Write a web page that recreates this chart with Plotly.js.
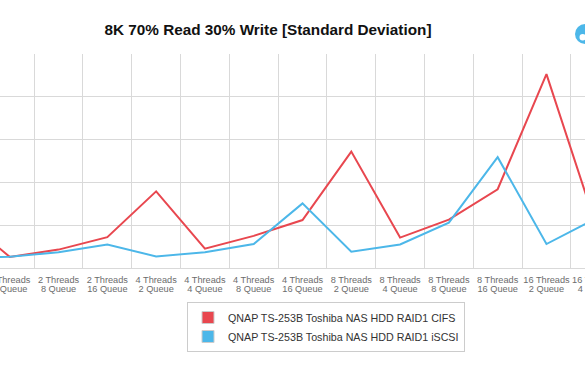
<!DOCTYPE html>
<html>
<head>
<meta charset="utf-8">
<script src="https://cdn.plot.ly/plotly-3.0.1.min.js"></script>
<style>
  html, body { margin: 0; padding: 0; background: #ffffff; overflow: hidden; width: 585px; height: 368px; }
  #chart { width: 705px; height: 368px; margin-left: -60px; }
</style>
</head>
<body>
<div id="chart"></div>
<script>
const threadLabels = [
  "2 Threads", "2 Threads", "2 Threads", "2 Threads",
  "4 Threads", "4 Threads", "4 Threads", "4 Threads",
  "8 Threads", "8 Threads", "8 Threads", "8 Threads",
  "16 Threads", "16 Threads"
];
const queueLabels = [
  "2 Queue", "4 Queue", "8 Queue", "16 Queue",
  "2 Queue", "4 Queue", "8 Queue", "16 Queue",
  "2 Queue", "4 Queue", "8 Queue", "16 Queue",
  "2 Queue", "4 Queue"
];
const cifsValues  = [1.21, 0.26, 0.43, 0.72, 1.79, 0.45, 0.75, 1.12, 2.72, 0.71, 1.13, 1.84, 4.53, 1.05];
const iscsiValues = [0.25, 0.26, 0.37, 0.55, 0.27, 0.37, 0.56, 1.51, 0.38, 0.55, 1.06, 2.59, 0.56, 1.15];
const seriesNames = ["QNAP TS-253B Toshiba NAS HDD RAID1 CIFS", "QNAP TS-253B Toshiba NAS HDD RAID1 iSCSI"];
const yTicks = [0, 1, 2, 3, 4, 5];

const red = "#e8474f";
const blue = "#4cb7e9";
const grid = "#d9d9d9";
const tickColor = "#6c6c6c";

const W = 705, OFF = 60;
const xRange = [-0.4295, 14.0195];
const idx = threadLabels.map((_, i) => i);
const boundaries = threadLabels.map((_, i) => i - 0.5).concat([threadLabels.length - 0.5]);

const traces = [
  { x: idx, y: cifsValues, type: "scatter", mode: "lines", line: { color: red, width: 2 }, showlegend: false, hoverinfo: "skip" },
  { x: idx, y: iscsiValues, type: "scatter", mode: "lines", line: { color: blue, width: 2 }, showlegend: false, hoverinfo: "skip" },
  { x: [null], y: [null], xaxis: "x2", type: "scatter", mode: "markers", name: seriesNames[0],
    marker: { symbol: "square", size: 12, color: red, line: { color: "#cccccc", width: 1 } } },
  { x: [null], y: [null], xaxis: "x2", type: "scatter", mode: "markers", name: seriesNames[1],
    marker: { symbol: "square", size: 12, color: blue, line: { color: "#cccccc", width: 1 } } }
];

const layout = {
  width: W, height: 368,
  margin: { l: 0, r: 0, t: 54, b: 100, pad: 0 },
  paper_bgcolor: "#ffffff", plot_bgcolor: "#ffffff",
  font: { family: "Liberation Sans, Arial, Helvetica, sans-serif", color: "#333333" },
  title: {
    text: "<b>8K 70% Read 30% Write [Standard Deviation]</b>",
    font: { size: 15.3, color: "#111111", family: "Liberation Sans, Arial, sans-serif" },
    x: (268 + OFF) / W, xref: "container", xanchor: "center",
    y: 1 - 30 / 368, yref: "container", yanchor: "middle"
  },
  xaxis: {
    range: xRange,
    tickmode: "array", tickvals: idx, ticktext: threadLabels,
    tickangle: 0, automargin: false,
    showgrid: false, zeroline: false, ticks: "",
    showline: true, linecolor: grid, linewidth: 1,
    ticklabeloverflow: "allow", ticklabelstandoff: 3,
    tickfont: { size: 9.2, color: tickColor },
    minor: { tickmode: "array", tickvals: boundaries, showgrid: true, gridcolor: grid, gridwidth: 1, ticks: "" },
    fixedrange: true
  },
  xaxis2: {
    range: xRange, overlaying: "x", anchor: "free", position: 0, side: "bottom",
    tickmode: "array", tickvals: idx, ticktext: queueLabels,
    tickangle: 0, automargin: false,
    showgrid: false, zeroline: false, ticks: "", showline: false,
    ticklabeloverflow: "allow", ticklabelstandoff: 14,
    tickfont: { size: 9.2, color: tickColor },
    fixedrange: true
  },
  yaxis: {
    range: [0, 5], tickmode: "array", tickvals: yTicks,
    showgrid: true, gridcolor: grid, gridwidth: 1,
    zeroline: false, showticklabels: false, ticks: "", fixedrange: true
  },
  legend: {
    x: (187 + OFF) / W, xanchor: "left",
    y: (268 - 302) / 214, yanchor: "top",
    bgcolor: "#ffffff", bordercolor: "#cccccc", borderwidth: 1,
    font: { size: 10.7, color: "#333333" },
    tracegroupgap: 0
  },
  shapes: [
    { type: "circle", xref: "paper", yref: "paper",
      x0: (575 + OFF) / W, x1: (595 + OFF) / W, y0: (268 - 44) / 214, y1: (268 - 24) / 214,
      fillcolor: "#4cb7e9", line: { width: 0 } },
    { type: "circle", xref: "paper", yref: "paper",
      x0: (579.5 + OFF) / W, x1: (586 + OFF) / W, y0: (268 - 40.5) / 214, y1: (268 - 34) / 214,
      fillcolor: "#ffffff", line: { width: 0 } }
  ]
};

Plotly.newPlot("chart", traces, layout, { displayModeBar: false, staticPlot: true });
</script>
</body>
</html>
